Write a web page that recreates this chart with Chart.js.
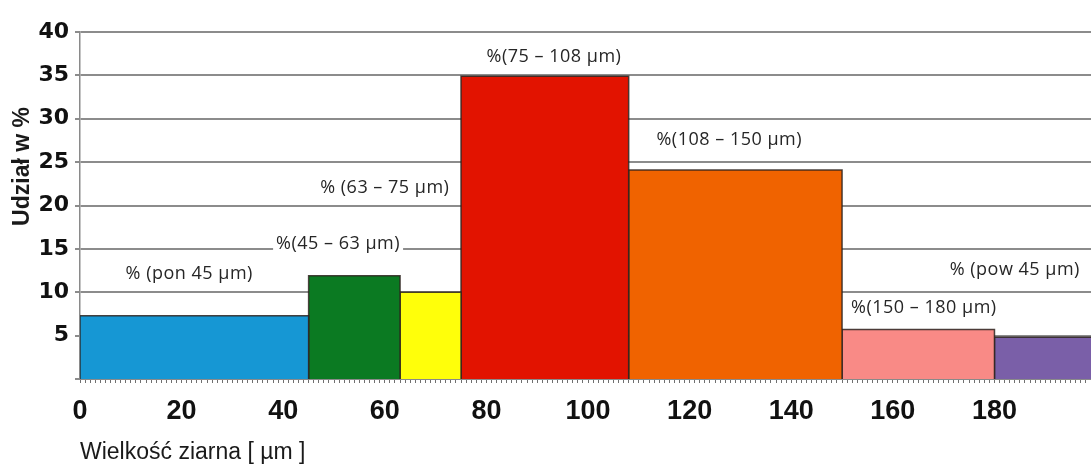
<!DOCTYPE html>
<html>
<head>
<meta charset="utf-8">
<script src="https://cdn.jsdelivr.net/npm/chart.js@4/dist/chart.umd.min.js"></script>
<style>
  html, body { margin: 0; padding: 0; background: #ffffff; }
  #wrap { width: 1091px; height: 468px; position: relative; }
</style>
</head>
<body>
<div id="wrap"><canvas id="c"></canvas></div>
<script>
// ---- data ----
const binEdges = [0, 45, 63, 75, 108, 150, 180, 200];          // µm
const shares = [7.3, 11.9, 10.0, 34.9, 24.1, 5.7, 4.8];         // %
const binLabels = ['% (pon 45 µm)', '%(45 – 63 µm)', '% (63 – 75 µm)', '%(75 – 108 µm)',
                   '%(108 – 150 µm)', '%(150 – 180 µm)', '% (pow 45 µm)'];
const labelAnchorX = [21.5, 50.8, 60.0, 93.3, 127.8, 166.1, 184.0];   // µm
const labelAnchorY = [12.1, 15.6, 22.0, 37.1, 27.6, 8.2, 12.6];      // %
const xTickValues = [0, 20, 40, 60, 80, 100, 120, 140, 160, 180];
const yTickValues = [0, 5, 10, 15, 20, 25, 30, 35, 40];
const xAxisTitle = 'Wielkość ziarna [ µm ]';
const yAxisTitle = 'Udział w %';

// ---- styles ----
const barColors = ['#1697d4', '#0b7a22', '#ffff0a', '#e21300', '#f06300', '#f98a86', '#7a5fa8'];
const gridColor = '#8c8c8c';

const datasets = shares.map((v, i) => ({
  type: 'line',
  data: [
    { x: binEdges[i], y: 0 },
    { x: binEdges[i], y: v },
    { x: binEdges[i + 1], y: v },
    { x: binEdges[i + 1], y: 0 }
  ],
  borderColor: 'rgba(45,35,30,0.85)',
  borderWidth: 1.5,
  backgroundColor: barColors[i],
  fill: 'origin',
  tension: 0,
  pointRadius: 0,
  pointHoverRadius: 0
}));

const minorTicks = [];
for (let v = 0; v <= 199; v++) minorTicks.push(v);

const labelPlugin = {
  id: 'binLabels',
  afterDatasetsDraw(chart) {
    const ctx = chart.ctx;
    const xs = chart.scales.x, ys = chart.scales.y;
    ctx.save();
    ctx.font = '18px "Open Sans", sans-serif';
    try { ctx.letterSpacing = '0.5px'; } catch (e) {}
    ctx.textAlign = 'center';
    ctx.textBaseline = 'middle';
    binLabels.forEach((t, i) => {
      const px = xs.getPixelForValue(labelAnchorX[i]);
      const py = ys.getPixelForValue(labelAnchorY[i]);
      const w = ctx.measureText(t).width;
      ctx.fillStyle = '#ffffff';
      ctx.fillRect(px - w / 2 - 3, py - 8, w + 6, 16);
      ctx.fillStyle = '#262626';
      ctx.fillText(t, px, py);
    });
    ctx.restore();
  }
};

const yTitlePlugin = {
  id: 'yTitle',
  afterDraw(chart) {
    const ctx = chart.ctx;
    const ys = chart.scales.y;
    ctx.save();
    ctx.font = 'bold 23px "Liberation Sans", Arial, sans-serif';
    ctx.fillStyle = '#1a1a1a';
    ctx.textAlign = 'center';
    ctx.textBaseline = 'middle';
    ctx.translate(23, ys.getPixelForValue(24.5));
    ctx.rotate(-Math.PI / 2);
    ctx.fillText(yAxisTitle, 0, 0);
    ctx.restore();
  }
};

new Chart(document.getElementById('c'), {
  type: 'line',
  data: { datasets },
  options: {
    responsive: true,
    maintainAspectRatio: false,
    animation: false,
    events: [],
    layout: { padding: { top: 32, right: 0, left: 0, bottom: 0 } },
    plugins: {
      legend: { display: false },
      tooltip: { enabled: false }
    },
    scales: {
      x: {
        type: 'linear',
        min: 0,
        max: 199,
        afterBuildTicks: s => { s.ticks = minorTicks.map(v => ({ value: v })); },
        afterFit: s => { s.height = 89; s.paddingRight = 0; s.paddingLeft = 0; },
        ticks: {
          autoSkip: false,
          maxRotation: 0,
          padding: 12,
          color: '#111111',
          font: { family: '"Liberation Sans", Arial, sans-serif', size: 27, weight: 'bold' },
          callback: v => (xTickValues.includes(v) ? String(v) : '')
        },
        grid: {
          display: true,
          drawOnChartArea: false,
          drawTicks: true,
          tickLength: 4,
          color: '#707070',
          lineWidth: 1
        },
        border: { display: true, color: '#8a8a8a', width: 2 },
        title: {
          display: true,
          text: xAxisTitle,
          align: 'start',
          color: '#1a1a1a',
          font: { family: '"Liberation Sans", Arial, sans-serif', size: 23 },
          padding: { top: 0, bottom: 2 }
        }
      },
      y: {
        min: 0,
        max: 40,
        afterBuildTicks: s => { s.ticks = yTickValues.map(v => ({ value: v })); },
        afterFit: s => { s.width = 80; },
        ticks: {
          padding: 6,
          color: '#111111',
          font: { family: '"DejaVu Sans", sans-serif', size: 22, weight: 'bold' },
          callback: v => (v === 0 ? '' : String(v))
        },
        grid: {
          color: gridColor,
          lineWidth: 2,
          drawTicks: true,
          tickLength: 5
        },
        border: { display: true, color: '#8a8a8a', width: 1.5 }
      }
    }
  },
  plugins: [labelPlugin, yTitlePlugin]
});
</script>
</body>
</html>
